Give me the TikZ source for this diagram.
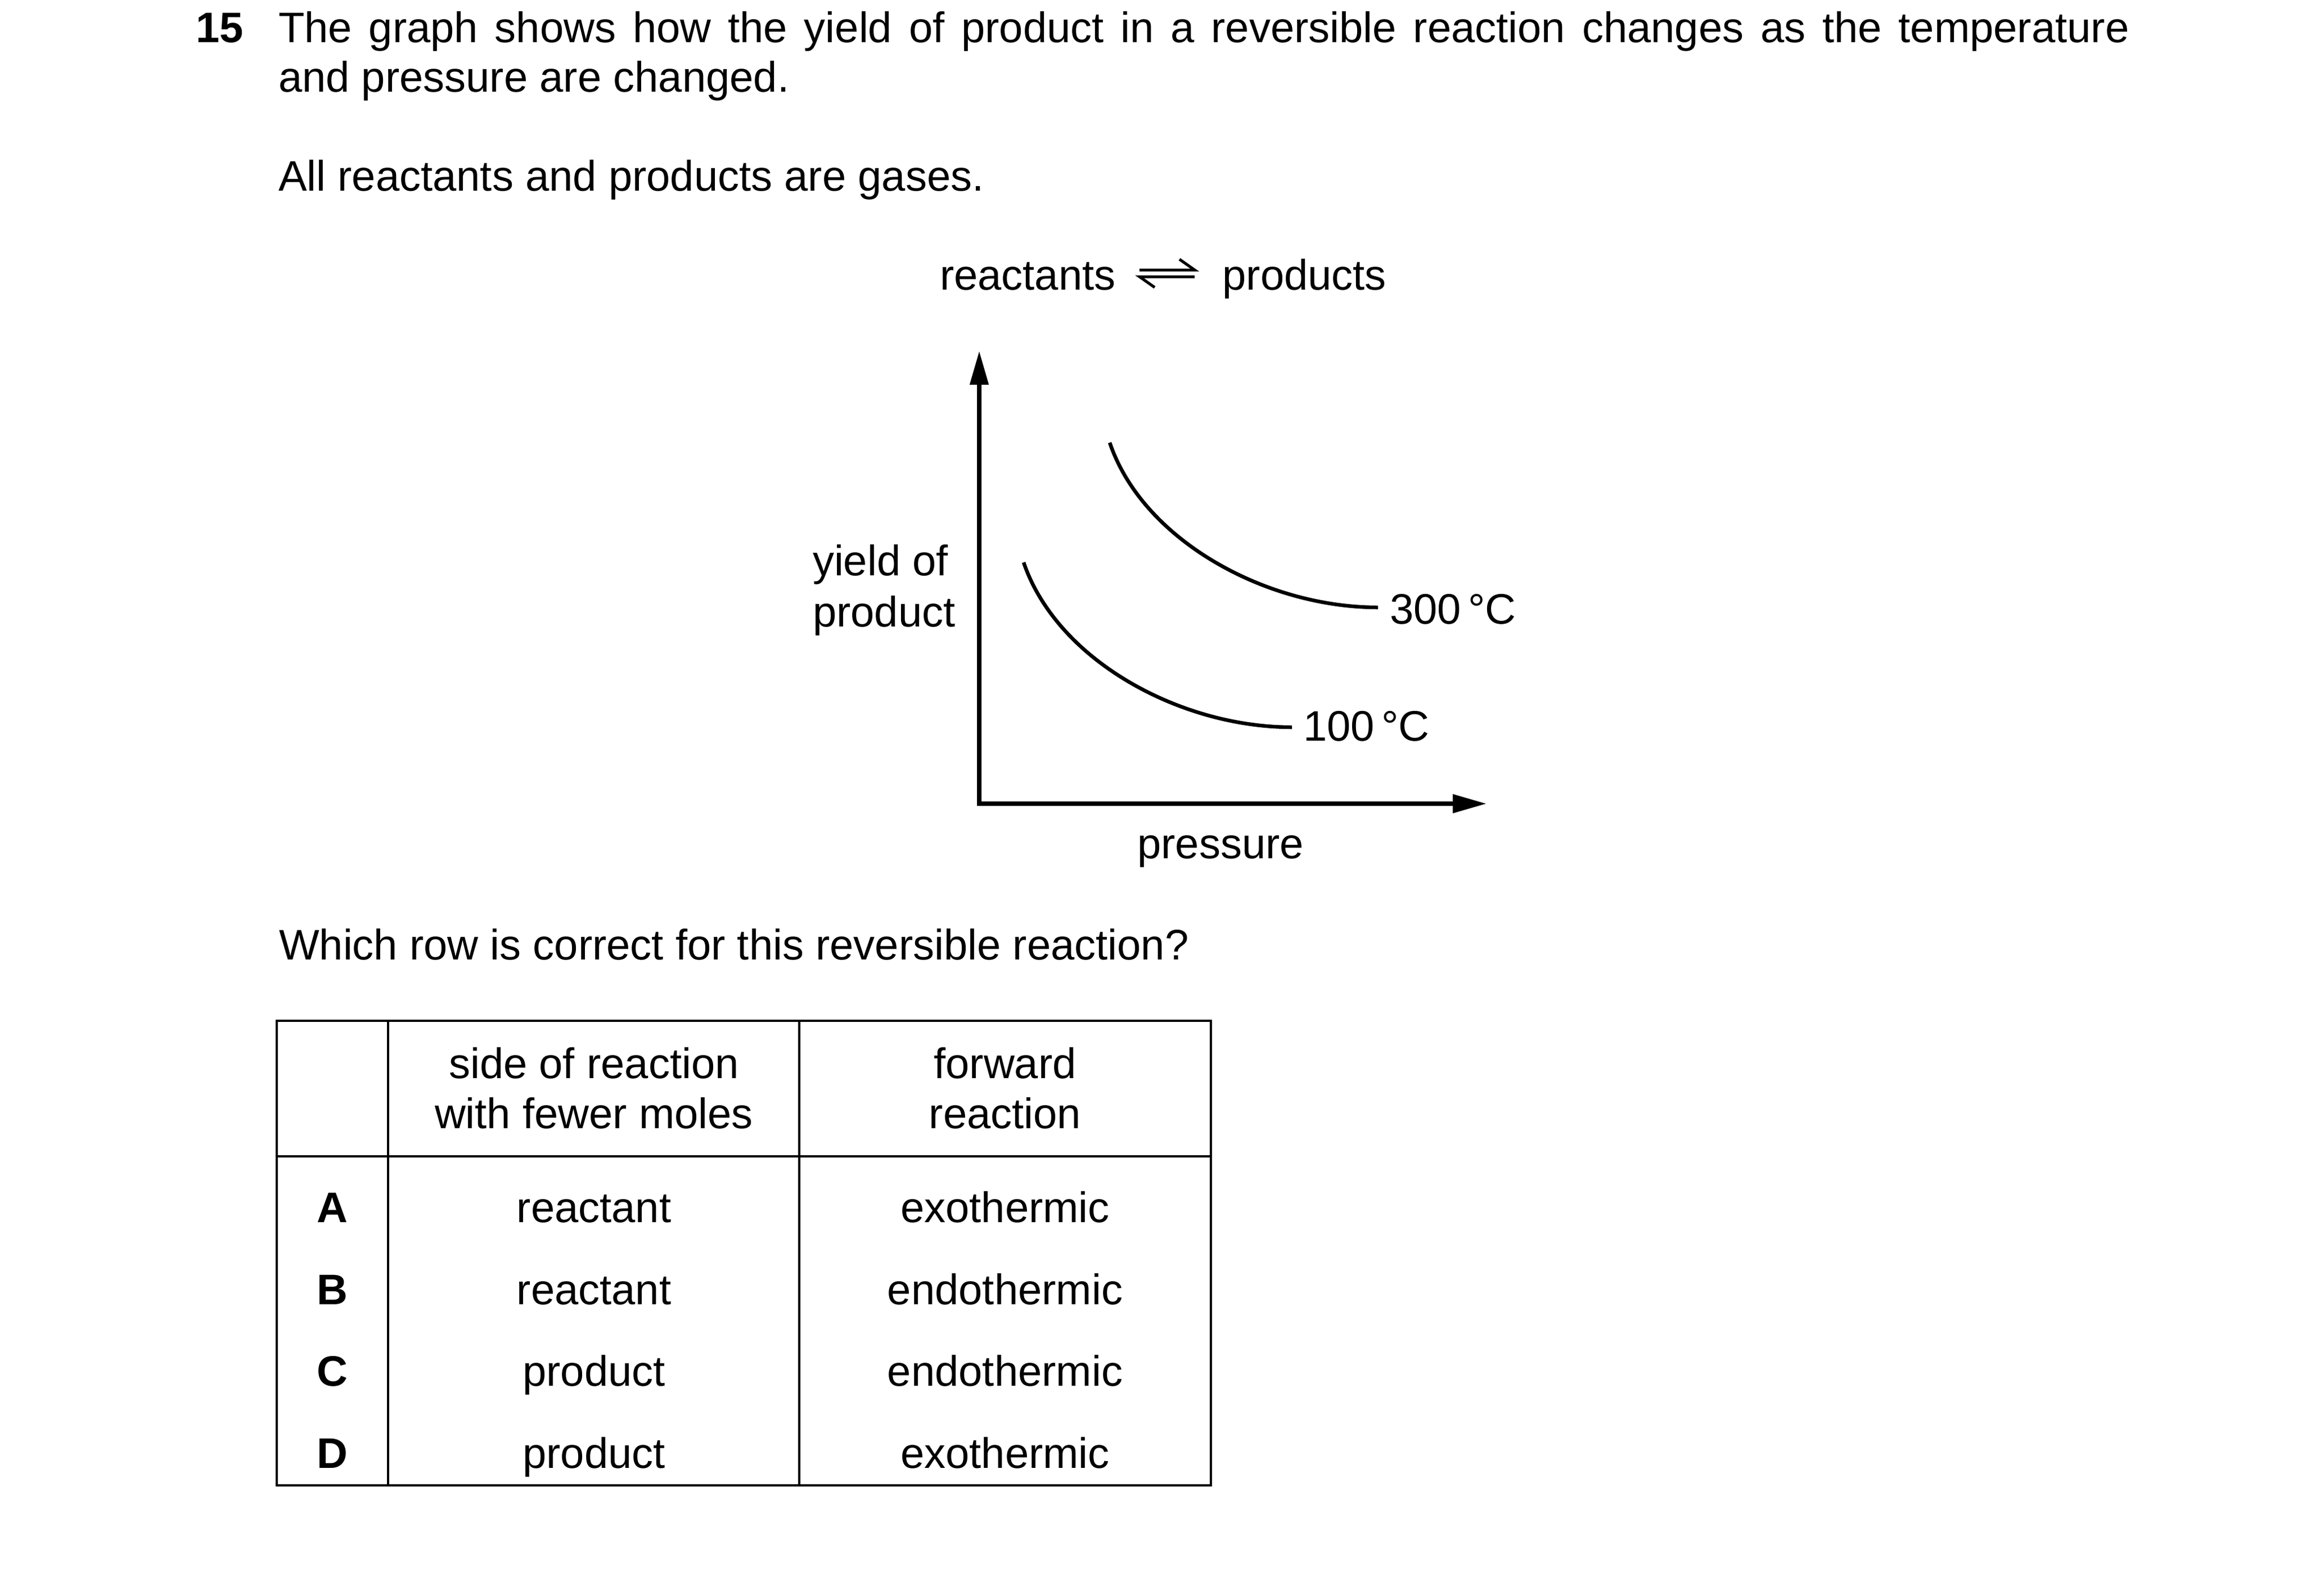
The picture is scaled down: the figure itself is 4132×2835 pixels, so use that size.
\documentclass[tikz,border=0pt]{standalone}
\usepackage{fontspec}
\setmainfont{Liberation Sans}
\usetikzlibrary{arrows.meta}
\begin{document}
\begin{tikzpicture}[x=1pt,y=-1pt,
  txt/.style={inner sep=0pt,outer sep=0pt,font=\fontsize{76}{91}\selectfont},
  lbl/.style={txt,anchor=base west},
  ctr/.style={txt,anchor=base},
  bld/.style={ctr,font=\fontsize{76}{91}\selectfont\bfseries},
  axis/.style={line width=7.5pt,-{Triangle[length=60pt,width=32pt]}},
  curve/.style={line width=6.5pt},
  grid/.style={line width=4.5pt},
  harp/.style={line width=5pt}]
\fill[white] (0,0) rectangle (4132,2835);
\useasboundingbox (0,0) rectangle (4132,2835);

% question text
\node[lbl,font=\fontsize{76}{91}\selectfont\bfseries] (qnum) at (348,75) {15};
\node[lbl] (q1) at (495,75) {\makebox[3291pt][s]{The graph shows how the yield of product in a reversible reaction changes as the temperature}};
\node[lbl] (q2) at (495,163) {and pressure are changed.};
\node[lbl] (q3) at (495,339) {All reactants and products are gases.};

% equation
\node[lbl] (reac) at (1671,515) {reactants};
\node[txt,anchor=base east] (prod0) at (2465,515) {products};
\coordinate (h1a) at (2026,480); \coordinate (h1b) at (2124,480); \coordinate (h1c) at (2097,461);
\coordinate (h2a) at (2124,492); \coordinate (h2b) at (2026,492); \coordinate (h2c) at (2053,511);
\draw[harp] (h1a) -- (h1b) -- (h1c);
\draw[harp] (h2a) -- (h2b) -- (h2c);

% axes
\coordinate (O) at (1741,1429);
\coordinate (Ytop) at (1741,624);
\coordinate (Xend) at (2643,1429);
\draw[axis] (O) -- (Ytop);
\draw[axis] (O) -- (Xend);
\fill (1737.25,1425.25) rectangle (1744.75,1432.75);

% curves
\coordinate (c1s) at (1820,1000);
\coordinate (c1e) at (2297,1293);
\draw[curve] (c1s) .. controls (1879,1174) and (2098,1293) .. (c1e);
\coordinate (c3s) at (1973,787);
\coordinate (c3e) at (2450,1080);
\draw[curve] (c3s) .. controls (2032,961) and (2251,1080) .. (c3e);

\node[lbl] (t100) at (2317,1317) {100\,°C};
\node[lbl] (t300) at (2471,1109) {300\,°C};
\node[lbl] (yl1) at (1445,1023) {yield of};
\node[lbl] (yl2) at (1445,1114) {product};
\node[ctr] (xl) at (2170,1526) {pressure};

% question 2
\node[lbl] (q4) at (496,1706) {Which row is correct for this reversible reaction?};

% table
\draw[grid] (492,1815) rectangle (2153,2641);
\draw[grid] (690,1815) -- (690,2641);
\draw[grid] (1421,1815) -- (1421,2641);
\draw[grid] (492,2056) -- (2153,2056);

\node[ctr] (h11) at (1056,1917) {side of reaction};
\node[ctr] (h12) at (1056,2006) {with fewer moles};
\node[ctr] (h21) at (1787,1917) {forward};
\node[ctr] (h22) at (1787,2006) {reaction};

\node[bld] (rA) at (591,2173) {A};
\node[bld] (rB) at (591,2319) {B};
\node[bld] (rC) at (591,2464) {C};
\node[bld] (rD) at (591,2610) {D};

\node[ctr] (a1) at (1056,2173) {reactant};
\node[ctr] (b1) at (1056,2319) {reactant};
\node[ctr] (c1) at (1056,2464) {product};
\node[ctr] (d1) at (1056,2610) {product};
\node[ctr] (a2) at (1787,2173) {exothermic};
\node[ctr] (b2) at (1787,2319) {endothermic};
\node[ctr] (c2) at (1787,2464) {endothermic};
\node[ctr] (d2) at (1787,2610) {exothermic};
\end{tikzpicture}
\end{document}
